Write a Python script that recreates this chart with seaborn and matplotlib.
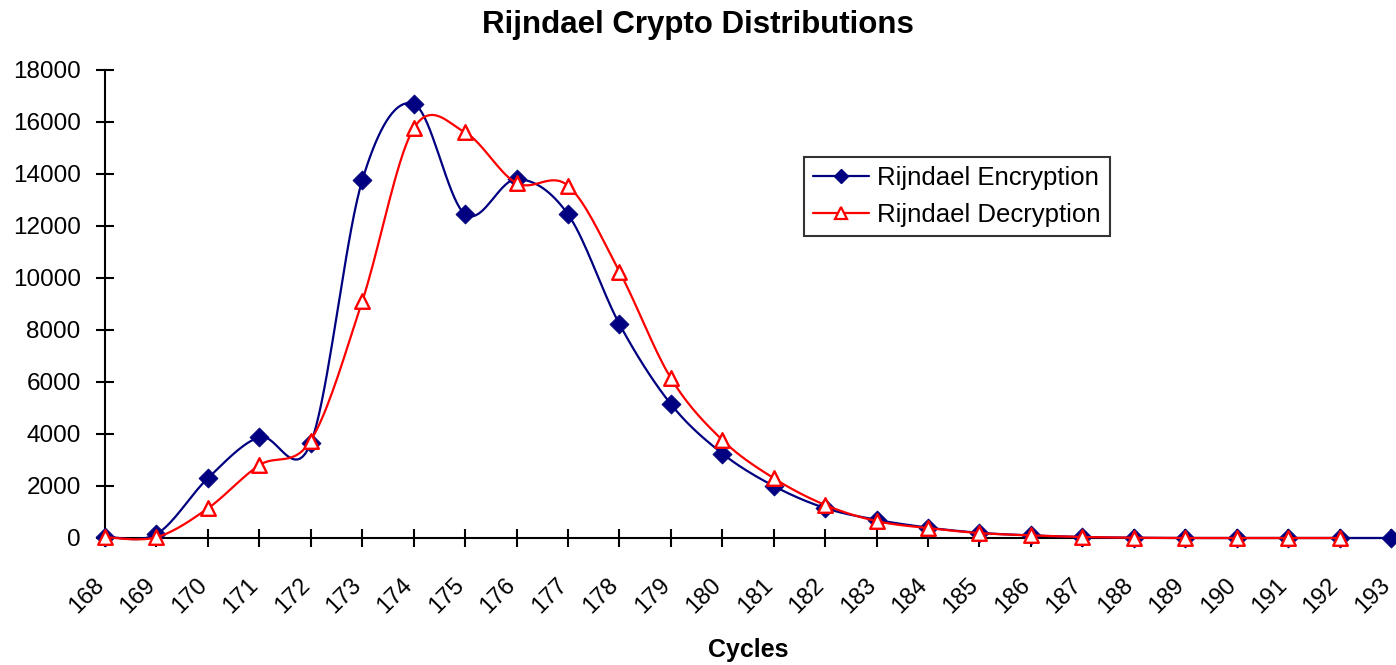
#!/usr/bin/env python3

# import packages
import numpy as np
import pandas as pd
import seaborn as sns
import matplotlib.pyplot as plt
from matplotlib.lines import Line2D

# data
cycles = list(range(168, 194))
encryption = [50, 150, 2300, 3880, 3650, 13750, 16700, 12450, 13800, 12450,
              8230, 5150, 3250, 2000, 1150, 700, 400, 200, 100, 40,
              10, 0, 0, 0, 0, 0]
decryption = [30, 30, 1140, 2800, 3750, 9100, 15750, 15600, 13650, 13550,
              10250, 6150, 3770, 2300, 1270, 650, 380, 190, 100, 40,
              10, 0, 0, 0, 0, np.nan]

labels = ['Rijndael Encryption', 'Rijndael Decryption']


def smooth(x, y, n=20):
    '''excel style smoothed line (bezier through the points)'''
    x = np.asarray(x, float); y = np.asarray(y, float)
    keep = ~np.isnan(y); x = x[keep]; y = y[keep]
    px = np.concatenate([[x[0]], x, [x[-1]]])
    py = np.concatenate([[y[0]], y, [y[-1]]])
    xs, ys = [], []
    t = np.linspace(0, 1, n)
    for i in range(1, len(px) - 2):
        p0 = np.array([px[i], py[i]]); p3 = np.array([px[i+1], py[i+1]])
        p1 = p0 + (np.array([px[i+1], py[i+1]]) - np.array([px[i-1], py[i-1]])) / 6
        p2 = p3 - (np.array([px[i+2], py[i+2]]) - np.array([px[i], py[i]])) / 6
        b = ((1-t)**3)[:, None]*p0 + (3*(1-t)**2*t)[:, None]*p1 \
            + (3*(1-t)*t**2)[:, None]*p2 + (t**3)[:, None]*p3
        xs.extend(b[:, 0]); ys.extend(b[:, 1])
    return pd.DataFrame({'x': xs, 'y': ys})


pos = np.arange(len(cycles))
df = pd.DataFrame({'pos': pos, 'enc': encryption, 'dec': decryption})

sns.set_style('white')
plt.rcParams['font.family'] = ['Liberation Sans', 'DejaVu Sans']
plt.rcParams['text.color'] = 'black'

fig = plt.figure(figsize=(13.96, 6.65), dpi=100)
ax = fig.add_axes([105/1396, 1-538/665, (1391-105)/1396, (538-70)/665])

navy = '#000080'; red = '#FF0000'
enc_s = smooth(pos, encryption); dec_s = smooth(pos, decryption)
sns.lineplot(data=enc_s, x='x', y='y', color=navy, lw=1.6, ax=ax, sort=False,
             estimator=None, clip_on=False, zorder=3)
sns.scatterplot(data=df, x='pos', y='enc', marker='D', s=95, color=navy,
                edgecolor=navy, linewidth=0.5, ax=ax, clip_on=False, zorder=4)
sns.lineplot(data=dec_s, x='x', y='y', color=red, lw=1.6, ax=ax, sort=False,
             estimator=None, clip_on=False, zorder=5)
sns.scatterplot(data=df.dropna(), x='pos', y='dec', marker='^', s=110,
                facecolor='white', edgecolor=red, linewidth=1.7, ax=ax,
                clip_on=False, zorder=6)

ax.set_xlim(0, len(cycles) - 1)
ax.set_ylim(0, 18000)
ax.set_yticks(range(0, 18001, 2000))
ax.set_xticks(pos)
ax.set_xticklabels([str(c) for c in cycles])
ax.set_xlabel(''); ax.set_ylabel('')
for s in ['top', 'right']:
    ax.spines[s].set_visible(False)
for s in ['left', 'bottom']:
    ax.spines[s].set_color('black'); ax.spines[s].set_linewidth(1.5)
ax.tick_params(axis='both', direction='inout', length=13, width=1.5,
               colors='black', labelcolor='black', bottom=True, left=True)
ax.tick_params(axis='y', pad=11, labelsize=17.5)
ax.tick_params(axis='x', pad=28, labelsize=17)
for lab in ax.get_xticklabels():
    lab.set_rotation(45); lab.set_ha('right'); lab.set_va('baseline')
    lab.set_rotation_mode('anchor')

handles = [Line2D([], [], color=navy, lw=1.6, marker='D', ms=7, mfc=navy, mec=navy),
           Line2D([], [], color=red, lw=1.6, marker='^', ms=8, mfc='white',
                  mec=red, mew=1.6)]
leg = ax.legend(handles, labels, loc='upper left', bbox_to_anchor=(0.5435, 0.814),
                fontsize=18.5, frameon=True, fancybox=False, borderaxespad=0,
                handlelength=2.2, handletextpad=0.3, labelspacing=0.5,
                borderpad=0.35)
leg.get_frame().set_edgecolor('black'); leg.get_frame().set_linewidth(1.5)

fig.text(0.5, 1-33/665, 'Rijndael Crypto Distributions', ha='center',
         va='baseline', fontsize=22.5, fontweight='bold')
fig.text(748/1396, 1-657/665, 'Cycles', ha='center', va='baseline',
         fontsize=18, fontweight='bold')

plt.savefig('out.png', dpi=100)
